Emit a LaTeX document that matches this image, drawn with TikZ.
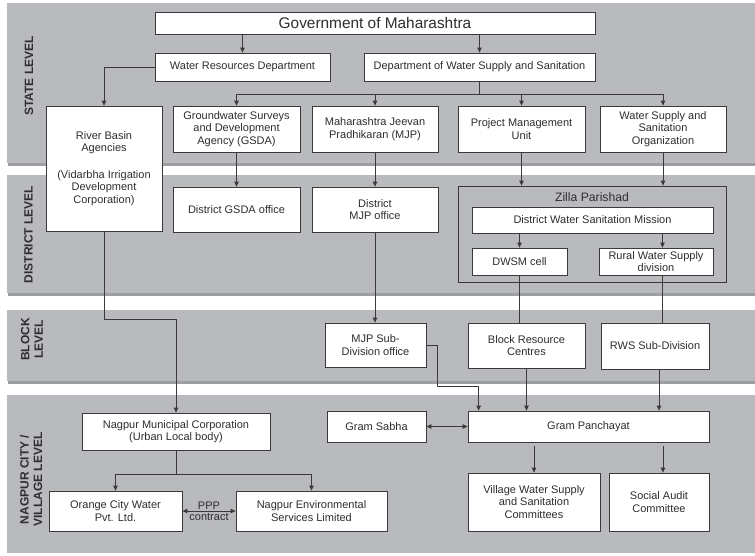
\documentclass[tikz,border=0pt]{standalone}
\usepackage{fontspec}
\setmainfont{Liberation Sans}
\usepackage{tikz}
\usetikzlibrary{positioning, arrows.meta, calc}
\definecolor{bandgrey}{HTML}{B9BABE}
\definecolor{bandshade}{HTML}{9D9EA2}
\definecolor{boxline}{HTML}{3A3A3A}
\definecolor{txt}{HTML}{2E2E2E}

\begin{document}
\begin{tikzpicture}[
  x=1pt, y=-1pt,
  >={Triangle[length=5pt, width=4.5pt]},
  every node/.style={font=\fontsize{11}{12.5}\selectfont, text=txt},
  unit/.style={draw=boxline, fill=white, line width=0.8pt, align=center, inner sep=1pt},
  band/.style={fill=bandgrey, draw=none},
  shade/.style={fill=bandshade, draw=none},
  levelname/.style={rotate=90, align=center, font=\fontsize{12}{13.5}\selectfont\bfseries},
  link/.style={draw=boxline, line width=0.8pt}
]
\useasboundingbox (0,0) rectangle (755,555);

% Level bands
\fill[shade] (8,5.5) rectangle (755,165.5);
\fill[band] (7,3) rectangle (755,163);
\fill[shade] (8,177.5) rectangle (755,295.5);
\fill[band] (7,175) rectangle (755,293);
\fill[shade] (8,312.5) rectangle (755,383.5);
\fill[band] (7,310) rectangle (755,381);
\fill[band] (7,395) rectangle (755,553);

\node[levelname] (lstate) at (29,76) {STATE LEVEL};
\node[levelname] (ldistrict) at (28.5,234.5) {DISTRICT LEVEL};
\node[levelname] (lblock) at (32,339.5) {BLOCK\\LEVEL};
\node[levelname] (lvillage) at (31,479.5) {NAGPUR CITY /\\VILLAGE LEVEL};

% State level
\node[unit, minimum width=440pt, minimum height=22pt, font=\fontsize{15.4}{17}\selectfont] (gov) at (375,23)
  {Government of Maharashtra};
\node[unit, minimum width=175pt, minimum height=28pt] (wrd) at (242.5,67) {Water Resources Department};
\node[unit, minimum width=231pt, minimum height=28pt] (dwss) at (479.5,67) {Department of Water Supply and Sanitation};
\node[unit, minimum width=116pt, minimum height=125pt] (rba) at (104,168.5)
  {River Basin\\Agencies\\[14pt](Vidarbha Irrigation\\Development\\Corporation)};
\node[unit, minimum width=127pt, minimum height=46pt] (gsda) at (236.5,129)
  {Groundwater Surveys\\and Development\\Agency (GSDA)};
\node[unit, minimum width=126pt, minimum height=46pt] (mjp) at (375,129)
  {Maharashtra Jeevan\\Pradhikaran (MJP)};
\node[unit, minimum width=127pt, minimum height=46pt] (pmu) at (521.5,129)
  {Project Management\\Unit};
\node[unit, minimum width=126pt, minimum height=46pt] (wsso) at (663,129)
  {Water Supply and\\Sanitation\\Organization};

% District level
\node[unit, minimum width=127pt, minimum height=45pt] (dgsda) at (236.5,209.5) {District GSDA office};
\node[unit, minimum width=126pt, minimum height=45pt] (dmjp) at (375,209.5) {District\\MJP office};
\node[draw=boxline, line width=0.8pt, minimum width=268pt, minimum height=96pt] (zp) at (592,234) {};
\node[font=\fontsize{12.2}{14}\selectfont] (zptitle) at (592,197) {Zilla Parishad};
\node[unit, minimum width=241pt, minimum height=26pt] (dwsm) at (592.5,220) {District Water Sanitation Mission};
\node[unit, minimum width=95pt, minimum height=27pt] (dcell) at (519.5,261.5) {DWSM cell};
\node[unit, minimum width=114pt, minimum height=27pt] (rwsd) at (656,261.5) {Rural Water Supply\\division};

% Block level
\node[unit, minimum width=101pt, minimum height=44pt] (mjpsub) at (375.5,345) {MJP Sub-\\Division office};
\node[unit, minimum width=117pt, minimum height=45pt] (brc) at (526.5,345.5) {Block Resource\\Centres};
\node[unit, minimum width=108pt, minimum height=46pt] (rwssub) at (655,346) {RWS Sub-Division};

% City / village level
\node[unit, minimum width=188pt, minimum height=37pt] (nmc) at (176,431.5)
  {Nagpur Municipal Corporation\\(Urban Local body)};
\node[unit, minimum width=133pt, minimum height=40pt] (ocw) at (115.5,511) {Orange City Water\\Pvt. Ltd.};
\node[unit, minimum width=151pt, minimum height=40pt] (nesl) at (311.5,511)
  {Nagpur Environmental\\Services Limited};
\node[unit, minimum width=99pt, minimum height=31pt] (gs) at (376.5,426.5) {Gram Sabha};
\node[unit, minimum width=241pt, minimum height=31pt] (gp) at (588.5,426.5) {Gram Panchayat};
\node[unit, minimum width=132pt, minimum height=58pt] (vwssc) at (534,502)
  {Village Water Supply\\and Sanitation\\Committees};
\node[unit, minimum width=100pt, minimum height=58pt] (sac) at (659,502) {Social Audit\\Committee};

% Connectors
\draw[link, ->] (gov.south -| wrd.north) -- (wrd.north);
\draw[link, ->] (gov.south -| dwss.north) -- (dwss.north);
\draw[link, ->] (wrd.west) -| (rba.north);
\coordinate (split) at (479.5,94);
\draw[link] (dwss.south) -- (split);
\draw[link, ->] (split) -| (gsda.north);
\draw[link, ->] (split) -| (mjp.north);
\draw[link, ->] (split) -| (pmu.north);
\draw[link, ->] (split) -| (wsso.north);
\draw[link, ->] (gsda.south) -- (dgsda.north);
\draw[link, ->] (mjp.south) -- (dmjp.north);
\draw[link, ->] (pmu.south) -- (pmu.south |- zp.north);
\draw[link, ->] (wsso.south) -- (wsso.south |- zp.north);
\draw[link, ->] (dwsm.south -| dcell.north) -- (dcell.north);
\draw[link, ->] ($(dwsm.south -| rwsd.north)+(6.5,0)$) -- ($(rwsd.north)+(6.5,0)$);
\draw[link, ->] (dmjp.south) -- (dmjp.south |- mjpsub.north);
\draw[link] (dcell.south) -- (dcell.south |- brc.north);
\draw[link] ($(rwsd.south)+(6.5,0)$) -- ($(rwsd.south |- rwssub.north)+(6.5,0)$);

\draw[link, ->] (rba.south) -- ++(0,88) -| (nmc.north);
\coordinate (jog) at (437,386);
\draw[link, ->] (mjpsub.east) -| (jog) -| ($(gp.north west)+(11,0)$);
\draw[link, ->] (brc.south) -- (brc.south |- gp.north);
\draw[link, ->] ($(rwssub.south)+(4,0)$) -- ($(rwssub.south |- gp.north)+(4,0)$);
\draw[link, <->] (gs.east) -- (gp.west);
\draw[link, ->] ($(vwssc.north |- gp.south)+(0,4)$) -- (vwssc.north);
\draw[link, ->] ($(sac.north |- gp.south)+(4,4)$) -- ($(sac.north)+(4,0)$);

\draw[link] (nmc.south) -- ++(0,24) coordinate (nmcsplit);
\draw[link, ->] (nmcsplit) -| (ocw.north);
\draw[link, ->] (nmcsplit) -| (nesl.north);
\draw[link, <->] (ocw.east) -- (nesl.west)
  node[midway, above, inner sep=1.5pt] (ppp) {PPP}
  node[midway, below, inner sep=1.5pt] (contract) {contract};

\end{tikzpicture}
\end{document}
